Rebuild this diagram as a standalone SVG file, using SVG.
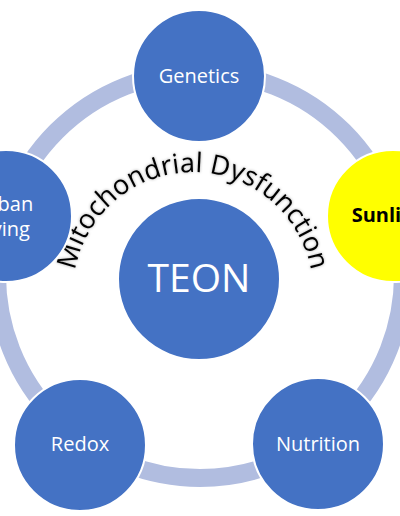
<svg xmlns="http://www.w3.org/2000/svg" width="400" height="516" viewBox="0 0 400 516">
  <style>
    .node { fill: #4472C4; stroke: #FFFFFF; stroke-width: 2; }
    .sun { fill: #FFFF00; stroke: #FFFFFF; stroke-width: 2; }
    .lbl { font-family: "Open Sans", "Liberation Sans", sans-serif; font-size: 20px; fill: #FFFFFF; text-anchor: middle; }
    .lblb { font-family: "Open Sans", "Liberation Sans", sans-serif; font-size: 20px; font-weight: bold; fill: #000000; text-anchor: middle; }
    .ring { fill: none; stroke: #B1BDE0; stroke-width: 18; }
    .title { font-family: "Open Sans", "Liberation Sans", sans-serif; font-size: 27px; fill: #000000; }
  </style>
  <defs>
    <path id="arc" d="M 74.8 312.8 A 120 120 0 1 1 311.2 312.8"/>
    <filter id="glow" x="-10%" y="-10%" width="120%" height="120%">
      <feGaussianBlur in="SourceAlpha" stdDeviation="1.6" result="b"/>
      <feFlood flood-color="#000000" flood-opacity="0.35"/>
      <feComposite operator="in" in2="b" result="s"/>
      <feMerge><feMergeNode in="s"/><feMergeNode in="SourceGraphic"/></feMerge>
    </filter>
  </defs>
  <rect width="400" height="516" fill="#FFFFFF"/>
  <g id="connectors">
    <circle class="ring" cx="200" cy="275" r="203"/>
  </g>
  <g id="teon">
    <circle class="node" cx="199" cy="279" r="81" stroke="none"/>
    <text class="lbl" x="199" y="292" style="font-size:39px">TEON</text>
  </g>
  <g id="title">
    <text class="title" filter="url(#glow)"><textPath href="#arc" startOffset="50%" text-anchor="middle">Mitochondrial Dysfunction</textPath></text>
  </g>
  <g id="genetics">
    <circle class="node" cx="199" cy="76" r="66"/>
    <text class="lbl" x="199" y="83">Genetics</text>
  </g>
  <g id="sunlight">
    <circle class="sun" cx="393" cy="216" r="66"/>
    <text class="lblb" x="393" y="222">Sunlight</text>
  </g>
  <g id="nutrition">
    <circle class="node" cx="318" cy="444" r="66"/>
    <text class="lbl" x="318" y="451">Nutrition</text>
  </g>
  <g id="redox">
    <circle class="node" cx="80" cy="445" r="66"/>
    <text class="lbl" x="80" y="451">Redox</text>
  </g>
  <g id="urban">
    <circle class="node" cx="6" cy="216" r="66"/>
    <text class="lbl" x="4" y="211">Urban</text>
    <text class="lbl" x="3" y="236">Living</text>
  </g>
</svg>
